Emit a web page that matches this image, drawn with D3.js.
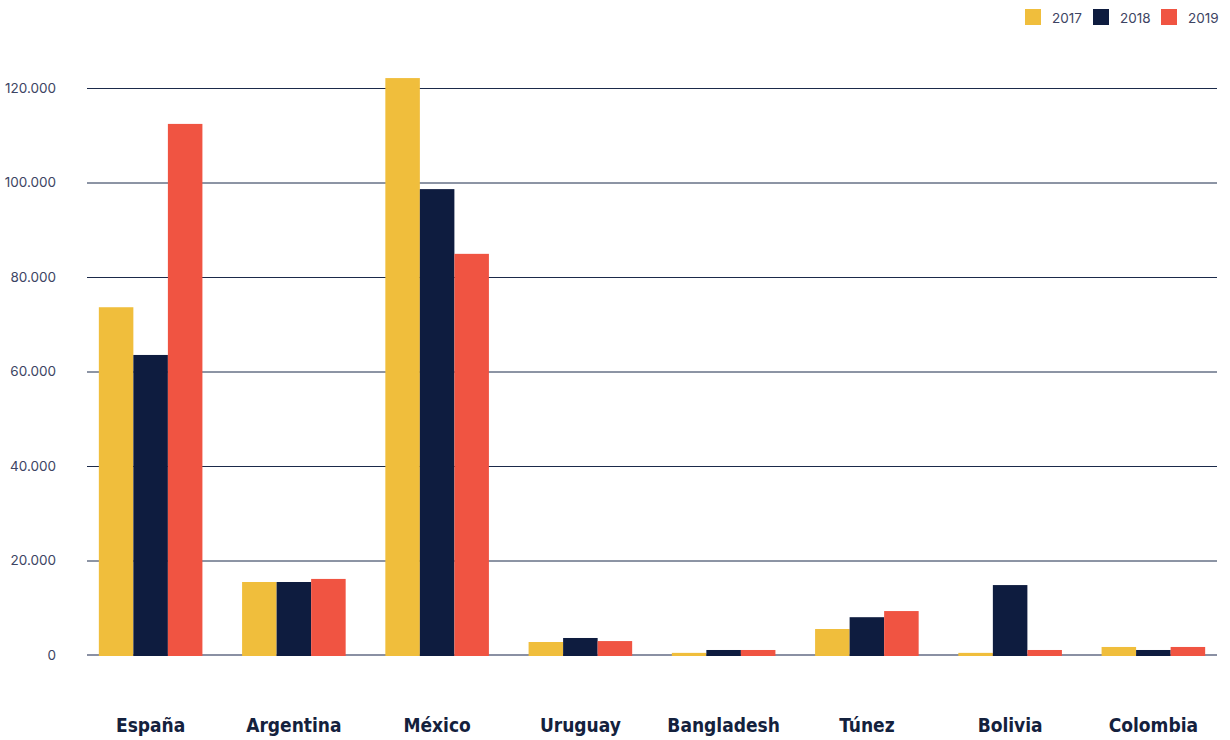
<!DOCTYPE html>
<html><head><meta charset="utf-8">
<script src="https://cdn.jsdelivr.net/npm/d3@7"></script>
<style>
html,body{margin:0;padding:0;background:#fff;}
</style></head>
<body>
<svg id="chart" width="1230" height="740"></svg>
<script>
const categories = ["España","Argentina","México","Uruguay","Bangladesh","Túnez","Bolivia","Colombia"];
const years = ["2017","2018","2019"];
const values2017 = [73600, 15450, 122100, 2750, 450, 5500, 450, 1700];
const values2018 = [63500, 15450, 98600, 3600, 1060, 8000, 14800, 1060];
const values2019 = [112400, 16100, 84900, 2950, 1060, 9300, 1060, 1700];
const yTicks = [0, 20000, 40000, 60000, 80000, 100000, 120000];
const colors = ["#f0be3c", "#0e1c3f", "#f05442"];

const series = [values2017, values2018, values2019];
const data = categories.map((c, i) => ({cat: c, vals: years.map((y, j) => ({year: y, v: series[j][i]}))}));

const svg = d3.select("#chart");
const x0 = d3.scaleBand().domain(categories).range([79, 1225]).paddingInner(0.277).paddingOuter(0.1385);
const x1 = d3.scaleBand().domain(years).range([0, x0.bandwidth()]);
const y = d3.scaleLinear().domain([0, 120000]).range([655, 88]);

const fmt = d => d3.format(",")(d).replace(/,/g, ".");

// grid
const grid = svg.append("g").attr("transform", "translate(87,0)")
  .call(d3.axisLeft(y).tickValues(yTicks.filter(d => d > 0)).tickSize(-1130).tickFormat(""));
grid.select(".domain").remove();
grid.selectAll("line").attr("stroke", "#1b2a4a").attr("stroke-width", 1);

// y labels
const yl = svg.append("g").attr("transform", "translate(56,0)")
  .call(d3.axisLeft(y).tickValues(yTicks).tickSize(0).tickPadding(0).tickFormat(fmt));
yl.select(".domain").remove();
yl.selectAll("text").attr("font-family", "Inter, 'Noto Sans', sans-serif").attr("font-size", 13.5)
  .attr("fill", "#3d4463");

// baseline
svg.append("line").attr("x1", 87).attr("x2", 1217).attr("y1", y(0)).attr("y2", y(0))
  .attr("stroke", "#8a90a3").attr("stroke-width", 2);

// bars
const g = svg.append("g");
g.selectAll("g").data(data).join("g")
  .attr("transform", d => `translate(${x0(d.cat)},0)`)
  .selectAll("rect").data(d => d.vals).join("rect")
  .attr("x", d => x1(d.year))
  .attr("width", x1.bandwidth())
  .attr("y", d => y(d.v))
  .attr("height", d => y(0) - y(d.v) + 1)
  .attr("fill", (d, i) => colors[i]);

// x labels
const xa = svg.append("g").attr("transform", "translate(0,718)")
  .call(d3.axisBottom(x0).tickSize(0).tickPadding(0));
xa.select(".domain").remove();
xa.selectAll("text").attr("font-family", "'Liberation Sans Narrow', 'DejaVu Sans Condensed', sans-serif")
  .attr("font-weight", "bold").attr("font-size", 19).attr("fill", "#14213d");

// legend
const lg = svg.append("g");
years.forEach((yr, i) => {
  const lx = 1025 + i * 68;
  lg.append("rect").attr("x", lx).attr("y", 9).attr("width", 16).attr("height", 16).attr("fill", colors[i]);
  lg.append("text").attr("x", lx + 27).attr("y", 22.5).text(yr)
    .attr("font-family", "Inter, 'Noto Sans', sans-serif").attr("font-size", 13.5).attr("fill", "#3d4463");
});
</script>
</body></html>
